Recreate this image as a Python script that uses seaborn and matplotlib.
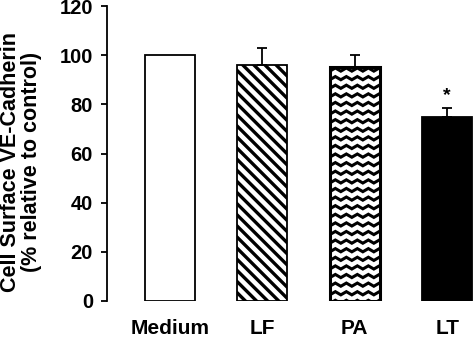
import matplotlib
matplotlib.use('Agg')
import matplotlib.pyplot as plt
import seaborn as sns
import numpy as np
import pandas as pd

categories = ['Medium', 'LF', 'PA', 'LT']
values = [100, 96, 95, 75]
errors = [0, 7, 5, 3.5]
significant = ['', '', '', '*']

sns.set_style('ticks')
plt.rcParams['font.family'] = ['Liberation Sans', 'DejaVu Sans']
plt.rcParams['font.weight'] = 'bold'
plt.rcParams['text.color'] = 'black'
plt.rcParams['axes.labelcolor'] = 'black'
plt.rcParams['xtick.color'] = 'black'
plt.rcParams['ytick.color'] = 'black'
plt.rcParams['axes.edgecolor'] = 'black'
plt.rcParams['hatch.linewidth'] = 2.4
plt.rcParams['hatch.color'] = 'black'

df = pd.DataFrame({'group': categories, 'value': values})

fig = plt.figure(figsize=(4.75, 3.4), dpi=100)
ax = fig.add_axes([107 / 475, 39 / 340, 368 / 475, 295 / 340])

sns.barplot(data=df, x='group', y='value', order=categories, color='white',
            width=0.54, edgecolor='black', linewidth=1.3, ax=ax)

bars = ax.patches
bars[1].set_hatch('\\\\\\')
bars[3].set_facecolor('black')

# wavy fill for PA, clipped to the bar
pa = bars[2]
x0, x1 = pa.get_x(), pa.get_x() + pa.get_width()
h = pa.get_height()
period = 0.119
xs = np.arange(x0 - period, x1 + period, period / 2)
zig = np.where(np.arange(len(xs)) % 2 == 0, 0.0, 1.3)
for base in np.arange(-1.0, h + 3.5, 3.5):
    ln, = ax.plot(xs, base + zig, color='black', lw=2.2, solid_joinstyle='miter')
    ln.set_clip_path(pa)
pa.set_linewidth(2.2)

# one-sided error bars
pos = np.arange(len(categories))
err = np.array(errors)
mask = err > 0
ax.errorbar(pos[mask], np.array(values)[mask],
            yerr=[np.zeros(mask.sum()), err[mask]],
            fmt='none', ecolor='black', elinewidth=1.3, capsize=3.6, capthick=1.3)

for i, s in enumerate(significant):
    if s:
        ax.text(i, values[i] + errors[i] + 5, s, ha='center', va='center',
                fontsize=14, fontweight='bold')

ax.set_xlim(-0.68, 3.3)
ax.set_ylim(0, 120)
ax.set_yticks(range(0, 121, 20))
ax.set_xlabel('')
ax.set_ylabel('Cell Surface VE-Cadherin\n(% relative to control)',
              fontsize=15.5, fontweight='bold', linespacing=1.0)
ax.yaxis.label.set_va('center')
ax.yaxis.set_label_coords(-0.233, 0.471)

sns.despine(ax=ax, bottom=True)
ax.spines['left'].set_linewidth(1.3)
ax.tick_params(axis='y', length=4, width=1.3, pad=6, labelsize=14.5)
ax.tick_params(axis='x', length=0, pad=13, labelsize=15)
for lab in ax.get_xticklabels() + ax.get_yticklabels():
    lab.set_fontweight('bold')

fig.savefig('out.png', dpi=100)
